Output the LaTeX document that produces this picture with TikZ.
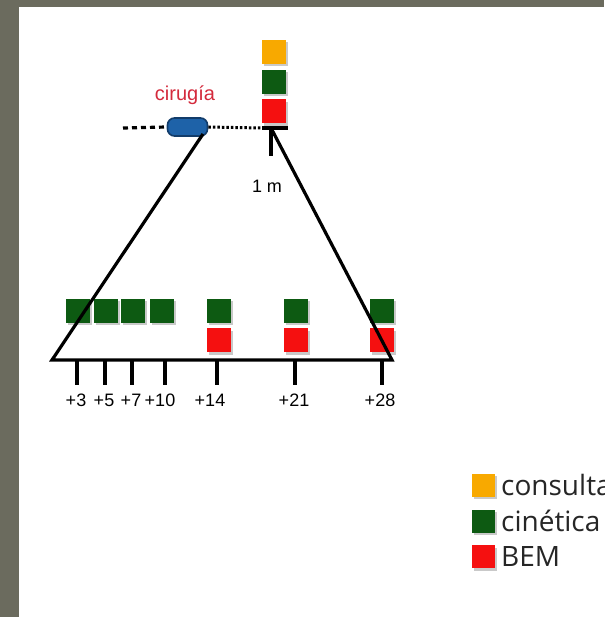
\documentclass[tikz,border=0pt]{standalone}
\usepackage{fontspec}
\setmainfont{Liberation Sans}
\newfontfamily\legfont{Open Sans}
\usetikzlibrary{shadows,shapes.misc}
\definecolor{frameclr}{HTML}{6B6B5E}
\definecolor{kgreen}{HTML}{0D5A12}
\definecolor{kred}{HTML}{F51010}
\definecolor{korange}{HTML}{F8A900}
\definecolor{kblue}{HTML}{1E62A8}
\definecolor{kblueline}{HTML}{123C6A}
\definecolor{kcrimson}{HTML}{D42A3C}
\tikzset{
  sq/.style={minimum size=24pt, inner sep=0pt, draw=none,
    drop shadow={shadow xshift=2pt, shadow yshift=-2.5pt, opacity=.35, fill=black!60}},
  gsq/.style={sq, fill=kgreen},
  rsq/.style={sq, fill=kred},
  osq/.style={sq, fill=korange},
  axis/.style={line width=3.2pt, black},
  tick/.style={line width=3.2pt, black},
  ticklbl/.style={anchor=base, inner sep=0pt, font=\fontsize{18}{20}\selectfont},
  leglbl/.style={anchor=west, inner sep=0pt, font=\legfont\fontsize{28}{30}\selectfont, text=black!85}
}
\begin{document}
\begin{tikzpicture}[x=1pt,y=-1pt]
\useasboundingbox (0,0) rectangle (604,617);
\clip (0,0) rectangle (604,617);
\fill[frameclr] (0,0) rectangle (604,617);
\fill[white] (19,7) rectangle (604,617);

% top stack
\node[osq] (to) at (273.5,52) {};
\node[gsq] (tg) at (273.5,82) {};
\node[rsq] (tr) at (273.5,111.5) {};

% timeline squares
\node[gsq] (g3) at (78,310.5) {};
\node[gsq] (g5) at (105.5,310.5) {};
\node[gsq] (g7) at (133,310.5) {};
\node[gsq] (g10) at (161.5,310.5) {};
\node[gsq] (g14) at (219,310.5) {};
\node[gsq] (g21) at (295.5,310.5) {};
\node[gsq] (g28) at (382,310.5) {};
\node[rsq] (r14) at (219,340) {};
\node[rsq] (r21) at (295.5,340) {};
\node[rsq] (r28) at (382,340) {};

% surgery capsule
\node[rectangle, rounded corners=7pt,
  minimum width=40pt, minimum height=18pt, inner sep=0pt, fill=kblue, draw=kblueline, line width=1.6pt] (cap) at (187.5,127) {};
\node[anchor=base, inner sep=0pt, text=kcrimson, font=\fontsize{20}{24}\selectfont] (cirlbl) at (185,101) {cirugía};

\coordinate (dashstart) at (123,128);
\coordinate (m1) at (271,128);
\coordinate (hl) at (262,128);
\coordinate (hr) at (288,128);
\coordinate (mv) at (271,156);
\coordinate (bl) at (52,360);
\coordinate (br) at (392,360);
\coordinate (captop) at (203,134);

\draw[line width=3.2pt, dash pattern=on 5pt off 4pt] (dashstart) -- (cap.west);
\draw[line width=3pt, dash pattern=on 2.5pt off 2pt] (cap.east) -- (hl);
\draw[axis] (hl) -- (hr);
\draw[axis] (m1) -- (mv);
\draw[axis, line join=miter] (captop) -- (bl) -- (br) -- (m1);

\node[anchor=base, inner sep=0pt, font=\fontsize{18}{20}\selectfont] (onem) at (267,193) {1 m};

% ticks
\foreach \n/\x/\lx/\t in {a/77/76/+3, b/105/104/+5, c/132/131/+7, d/165/160/+10, e/217/210/+14, f/295/294/+21, g/382/380/+28}{
  \coordinate (t\n top) at (\x,360);
  \coordinate (t\n bot) at (\x,385);
  \draw[tick] (t\n top) -- (t\n bot);
  \node[ticklbl] (l\n) at (\lx,406) {\t};
}

% legend
\node[osq, minimum size=23pt] (lo) at (483.5,485) {};
\node[gsq, minimum size=23pt] (lg) at (483.5,521) {};
\node[rsq, minimum size=23pt] (lr) at (483.5,556.5) {};
\node[leglbl] (lot) at (501,485) {consulta};
\node[leglbl] (lgt) at (501,521) {cinética};
\node[leglbl] (lrt) at (501,556.5) {BEM};
\end{tikzpicture}
\end{document}
